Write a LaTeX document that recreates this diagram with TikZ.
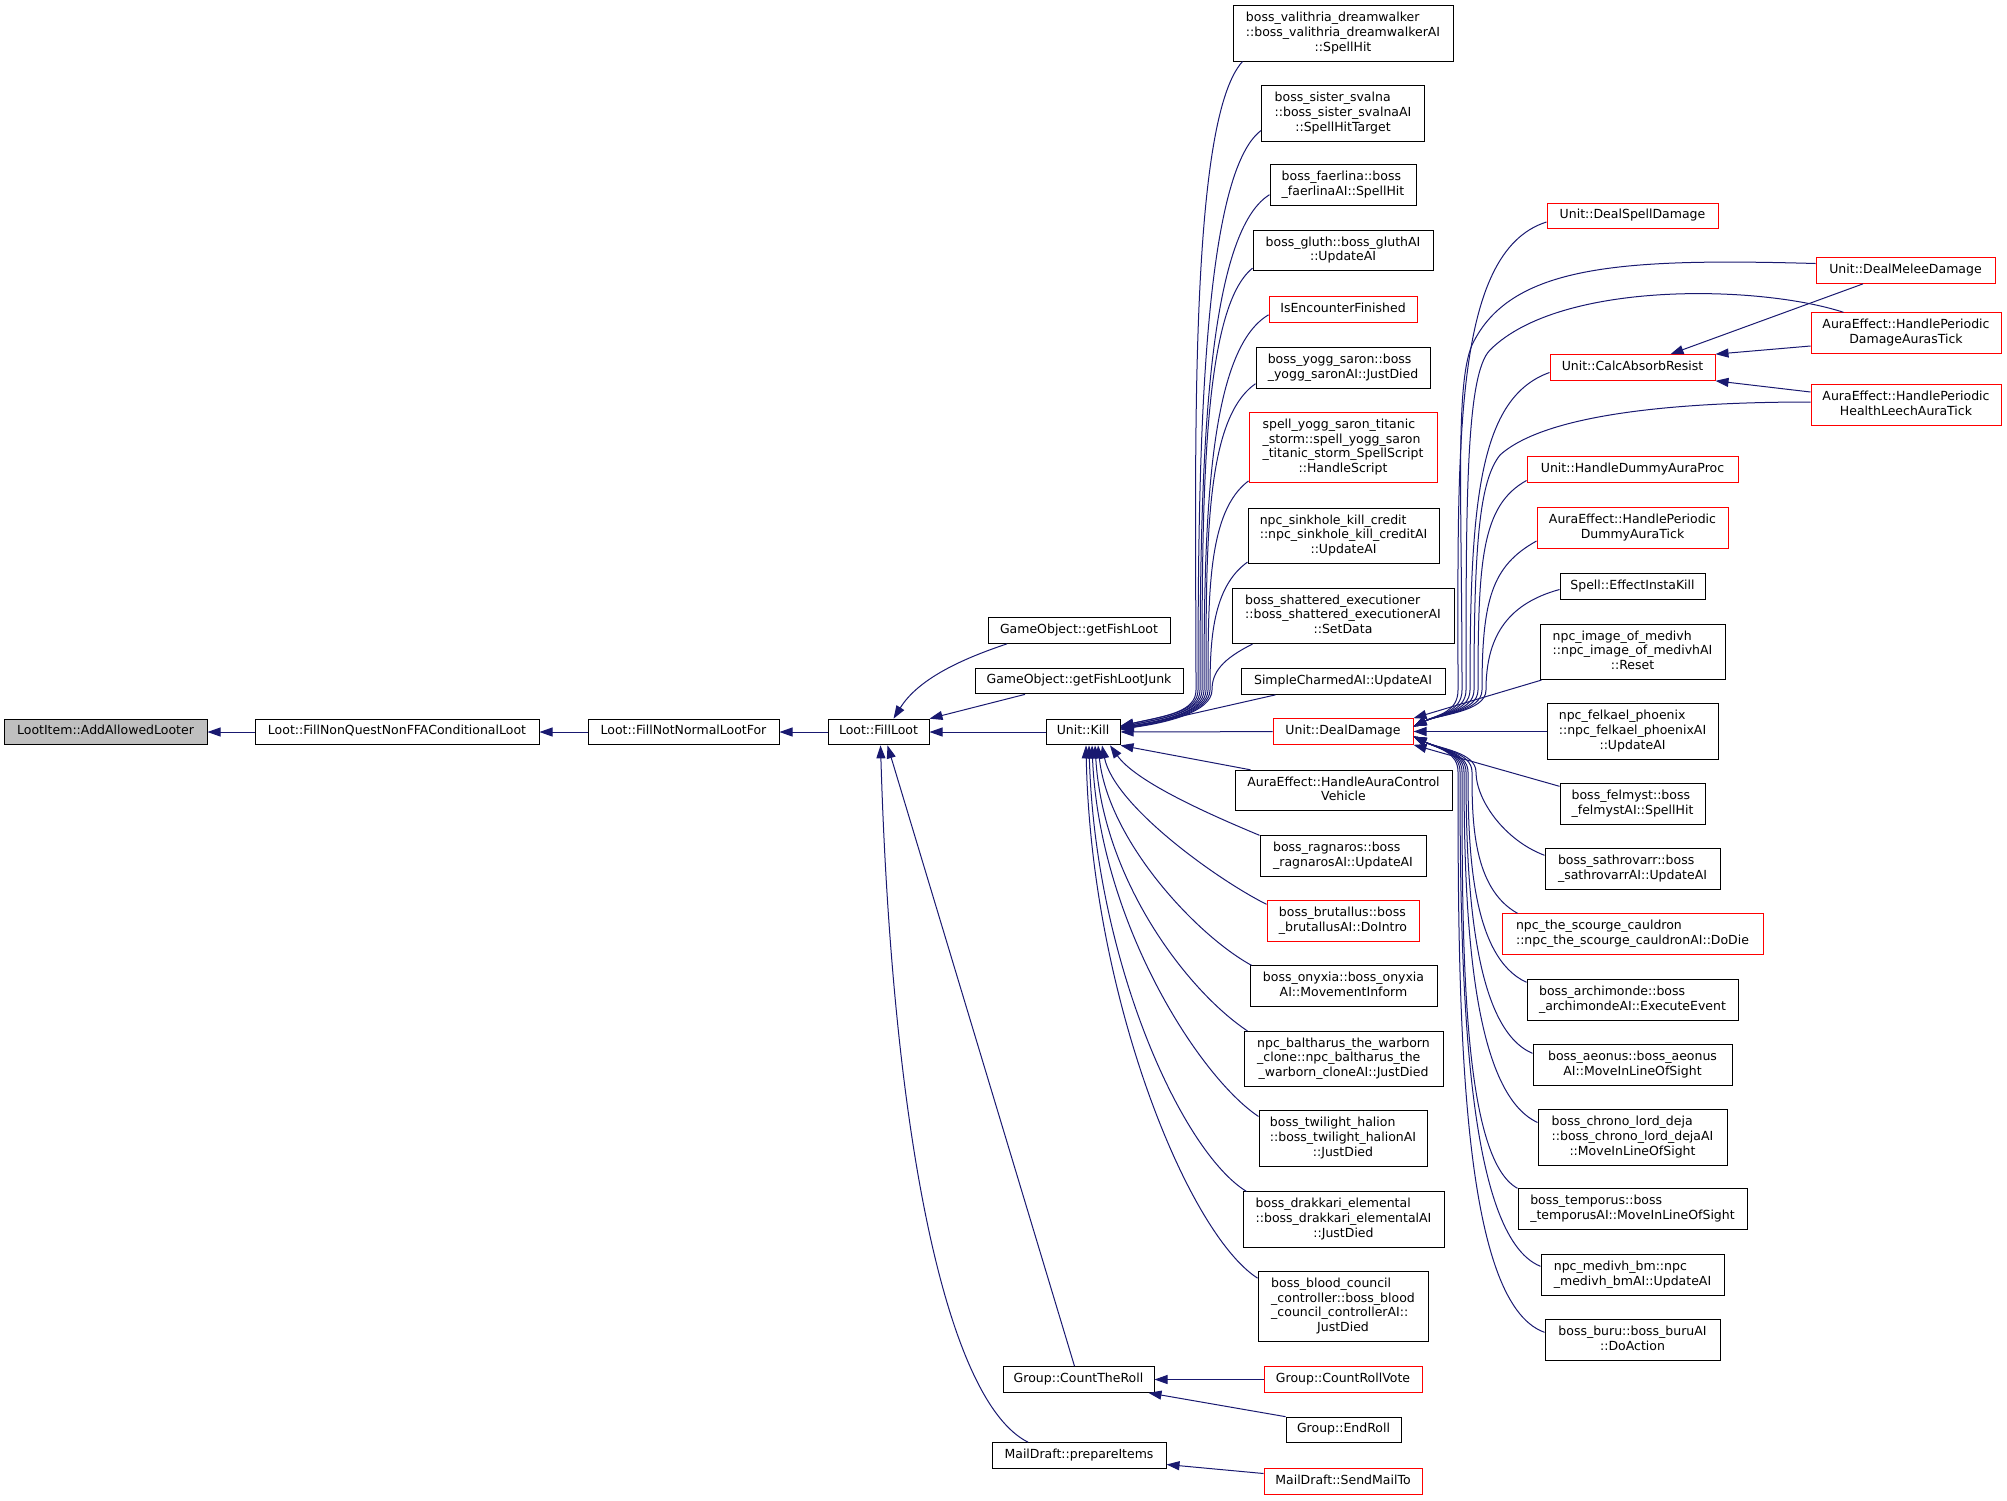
\documentclass[tikz,border=0pt]{standalone}
\usepackage{fontspec}
\setmainfont{DejaVu Sans}
\usepackage{tikz}
\usetikzlibrary{positioning}
\usetikzlibrary{arrows.meta}

\definecolor{callblue}{RGB}{25,25,112}
\definecolor{callred}{RGB}{255,0,0}

% label: left-aligned lines, last line centred
\newcommand{\fnlabel}[2]{\begin{tabular}{@{}l@{}}#1\\\multicolumn{1}{@{}c@{}}{#2}\end{tabular}}

\tikzset{
  fn/.style={draw=black, fill=white, line width=1pt, inner xsep=5pt, inner ysep=5.5pt,
    font=\fontsize{12.5}{14.7}\selectfont, execute at begin node=\strut},
  fnred/.style={fn, draw=callred},
  fnroot/.style={fn, fill=black!25},
  call/.style={draw=callblue, line width=1pt, -{Triangle[length=13pt,width=9pt]}},
}

\begin{document}
\begin{tikzpicture}[x=1pt, y=1pt]
\useasboundingbox (0,0) rectangle (2007,-1500);

% main chain
\node[fnroot, minimum width=203pt] (root) at (105.5,-732) {LootItem::AddAllowedLooter};
\node[fn, minimum width=284pt, right=47pt of root] (fnq) {Loot::FillNonQuestNonFFAConditionalLoot};
\node[fn, minimum width=191pt, right=48pt of fnq] (fnn) {Loot::FillNotNormalLootFor};
\node[fn, minimum width=101pt, right=48pt of fnn] (fill) {Loot::FillLoot};
\node[fn, minimum width=74pt, right=116pt of fill] (kill) {Unit::Kill};

% callers of FillLoot
\node[fn, minimum width=182pt] (fish) at (1079,-630.5) {GameObject::getFishLoot};
\node[fn, minimum width=208pt] (junk) at (1079,-681) {GameObject::getFishLootJunk};
\node[fn, minimum width=151pt] (roll) at (1078.5,-1379.5) {Group::CountTheRoll};
\node[fn, minimum width=174pt] (prep) at (1079,-1455.5) {MailDraft::prepareItems};

% callers of Kill, CountTheRoll, prepareItems
\node[fn, minimum width=220pt] (valith) at (1343,-33.5) {\fnlabel{boss\_valithria\_dreamwalker\\::boss\_valithria\_dreamwalkerAI}{::SpellHit}};
\node[fn, minimum width=163pt] (svalna) at (1343,-113.5) {\fnlabel{boss\_sister\_svalna\\::boss\_sister\_svalnaAI}{::SpellHitTarget}};
\node[fn, minimum width=146pt] (faerlina) at (1343,-185) {\fnlabel{boss\_faerlina::boss}{\_faerlinaAI::SpellHit}};
\node[fn, minimum width=180pt] (gluth) at (1343,-250.5) {\fnlabel{boss\_gluth::boss\_gluthAI}{::UpdateAI}};
\node[fnred, minimum width=148pt] (isenc) at (1343,-309.5) {IsEncounterFinished};
\node[fn, minimum width=174pt] (yogg) at (1343,-368) {\fnlabel{boss\_yogg\_saron::boss}{\_yogg\_saronAI::JustDied}};
\node[fnred, minimum width=188pt] (titanic) at (1343,-447.5) {\fnlabel{spell\_yogg\_saron\_titanic\\\_storm::spell\_yogg\_saron\\\_titanic\_storm\_SpellScript}{::HandleScript}};
\node[fn, minimum width=191pt] (sinkhole) at (1343.5,-536) {\fnlabel{npc\_sinkhole\_kill\_credit\\::npc\_sinkhole\_kill\_creditAI}{::UpdateAI}};
\node[fn, minimum width=222pt] (shattered) at (1343,-616) {\fnlabel{boss\_shattered\_executioner\\::boss\_shattered\_executionerAI}{::SetData}};
\node[fn, minimum width=204pt] (simple) at (1343,-681.5) {SimpleCharmedAI::UpdateAI};
\node[fnred, minimum width=140pt] (dealdmg) at (1343,-731.5) {Unit::DealDamage};
\node[fn, minimum width=217pt] (vehicle) at (1343.5,-790.5) {\fnlabel{AuraEffect::HandleAuraControl}{Vehicle}};
\node[fn, minimum width=166pt] (ragnaros) at (1343,-856) {\fnlabel{boss\_ragnaros::boss}{\_ragnarosAI::UpdateAI}};
\node[fnred, minimum width=152pt] (brutallus) at (1343,-921) {\fnlabel{boss\_brutallus::boss}{\_brutallusAI::DoIntro}};
\node[fn, minimum width=187pt] (onyxia) at (1343.5,-986) {\fnlabel{boss\_onyxia::boss\_onyxia}{AI::MovementInform}};
\node[fn, minimum width=199pt] (baltharus) at (1343.5,-1059) {\fnlabel{npc\_baltharus\_the\_warborn\\\_clone::npc\_baltharus\_the}{\_warborn\_cloneAI::JustDied}};
\node[fn, minimum width=168pt] (halion) at (1343,-1138.5) {\fnlabel{boss\_twilight\_halion\\::boss\_twilight\_halionAI}{::JustDied}};
\node[fn, minimum width=201pt] (drakkari) at (1343.5,-1219.5) {\fnlabel{boss\_drakkari\_elemental\\::boss\_drakkari\_elementalAI}{::JustDied}};
\node[fn, minimum width=170pt] (blood) at (1343,-1306.5) {\fnlabel{boss\_blood\_council\\\_controller::boss\_blood\\\_council\_controllerAI::}{JustDied}};
\node[fnred, minimum width=158pt] (rollvote) at (1343,-1379.5) {Group::CountRollVote};
\node[fn, minimum width=115pt] (endroll) at (1343.5,-1430) {Group::EndRoll};
\node[fnred, minimum width=158pt] (sendmail) at (1343,-1481.5) {MailDraft::SendMailTo};

% callers of DealDamage
\node[fnred, minimum width=171pt] (spelldmg) at (1632.5,-216) {Unit::DealSpellDamage};
\node[fnred, minimum width=165pt] (calcabs) at (1632.5,-367.5) {Unit::CalcAbsorbResist};
\node[fnred, minimum width=211pt] (dummyproc) at (1632.5,-469.5) {Unit::HandleDummyAuraProc};
\node[fnred, minimum width=191pt] (dummytick) at (1632.5,-528) {\fnlabel{AuraEffect::HandlePeriodic}{DummyAuraTick}};
\node[fn, minimum width=145pt] (instakill) at (1632.5,-586.5) {Spell::EffectInstaKill};
\node[fn, minimum width=185pt] (medivh) at (1632.5,-652) {\fnlabel{npc\_image\_of\_medivh\\::npc\_image\_of\_medivhAI}{::Reset}};
\node[fn, minimum width=171pt] (felkael) at (1632.5,-731.5) {\fnlabel{npc\_felkael\_phoenix\\::npc\_felkael\_phoenixAI}{::UpdateAI}};
\node[fn, minimum width=145pt] (felmyst) at (1632.5,-804) {\fnlabel{boss\_felmyst::boss}{\_felmystAI::SpellHit}};
\node[fn, minimum width=175pt] (sathrovarr) at (1632.5,-869) {\fnlabel{boss\_sathrovarr::boss}{\_sathrovarrAI::UpdateAI}};
\node[fnred, minimum width=261pt] (cauldron) at (1632.5,-934) {\fnlabel{npc\_the\_scourge\_cauldron}{::npc\_the\_scourge\_cauldronAI::DoDie}};
\node[fn, minimum width=211pt] (archimonde) at (1632.5,-1000) {\fnlabel{boss\_archimonde::boss}{\_archimondeAI::ExecuteEvent}};
\node[fn, minimum width=199pt] (aeonus) at (1632.5,-1065) {\fnlabel{boss\_aeonus::boss\_aeonus}{AI::MoveInLineOfSight}};
\node[fn, minimum width=189pt] (chrono) at (1632.5,-1137.5) {\fnlabel{boss\_chrono\_lord\_deja\\::boss\_chrono\_lord\_dejaAI}{::MoveInLineOfSight}};
\node[fn, minimum width=229pt] (temporus) at (1632.5,-1209) {\fnlabel{boss\_temporus::boss}{\_temporusAI::MoveInLineOfSight}};
\node[fn, minimum width=183pt] (medivhbm) at (1632.5,-1275) {\fnlabel{npc\_medivh\_bm::npc}{\_medivh\_bmAI::UpdateAI}};
\node[fn, minimum width=175pt] (buru) at (1632.5,-1340) {\fnlabel{boss\_buru::boss\_buruAI}{::DoAction}};

% callers of CalcAbsorbResist
\node[fnred, minimum width=179pt] (melee) at (1905.5,-270.5) {Unit::DealMeleeDamage};
\node[fnred, minimum width=190pt] (dmgaura) at (1906,-333) {\fnlabel{AuraEffect::HandlePeriodic}{DamageAurasTick}};
\node[fnred, minimum width=190pt] (leech) at (1906,-405) {\fnlabel{AuraEffect::HandlePeriodic}{HealthLeechAuraTick}};

% chain edges
\draw[call] (fnq) -- (root);
\draw[call] (fnn) -- (fnq);
\draw[call] (fill) -- (fnn);
\draw[call] (kill) -- (fill);
\draw[call] ([xshift=-72pt]fish.south) .. controls +(-45,-15) and +(25,40) .. ([xshift=15pt]fill.north);
\draw[call] ([xshift=-54pt]junk.south) -- (fill.north east);
\draw[call] ([xshift=-4pt]roll.north) -- ([xshift=9pt]fill.south);
\draw[call] ([xshift=-51pt]prep.north) .. controls +(-80,40) and +(12,-400) .. ([xshift=2pt]fill.south);
\draw[call] (rollvote) -- (roll);
\draw[call] (endroll.north west) -- ([xshift=-6pt]roll.south east);
\draw[call] ([yshift=8pt]sendmail.west) -- ([yshift=-9pt]prep.east);

% into Kill, from above
\draw[call] ([xshift=10pt]valith.south west) .. controls +(-55,-60) and (1196,-470) .. (1196,-690) .. controls (1196,-712) and +(45,10) .. ([yshift=6pt]kill.east);
\draw[call] ([yshift=11pt]svalna.south west) .. controls +(-60,-45) and (1198,-470) .. (1198,-690) .. controls (1198,-712) and +(45,10) .. ([yshift=6pt]kill.east);
\draw[call] ([yshift=11pt]faerlina.south west) .. controls +(-65,-40) and (1200,-480) .. (1200,-690) .. controls (1200,-712) and +(45,9) .. ([yshift=5pt]kill.east);
\draw[call] ([yshift=3pt]gluth.south west) .. controls +(-50,-40) and (1202,-500) .. (1202,-690) .. controls (1202,-712) and +(45,9) .. ([yshift=5pt]kill.east);
\draw[call] ([yshift=8pt]isenc.south west) .. controls +(-60,-35) and (1204,-520) .. (1204,-690) .. controls (1204,-712) and +(45,8) .. ([yshift=4pt]kill.east);
\draw[call] ([yshift=5pt]yogg.south west) .. controls +(-50,-35) and (1206,-540) .. (1206,-690) .. controls (1206,-712) and +(45,8) .. ([yshift=4pt]kill.east);
\draw[call] ([yshift=2pt]titanic.south west) .. controls +(-40,-30) and (1208,-590) .. (1208,-690) .. controls (1208,-712) and +(45,7) .. ([yshift=4pt]kill.east);
\draw[call] ([yshift=2pt]sinkhole.south west) .. controls +(-35,-25) and (1210,-640) .. (1210,-690) .. controls (1210,-712) and +(45,7) .. ([yshift=3pt]kill.east);
\draw[call] ([xshift=21pt]shattered.south west) .. controls +(-30,-15) and (1212,-672) .. (1212,-690) .. controls (1212,-712) and +(45,6) .. ([yshift=3pt]kill.east);
\draw[call] ([xshift=35pt]simple.south west) -- ([yshift=2pt]kill.east);
\draw[call] (dealdmg) -- (kill);

% into Kill, from below
\draw[call] ([xshift=16pt]vehicle.north west) -- (kill.south east);
\draw[call] (ragnaros.north west) .. controls +(-60,25) and +(25,-35) .. ([xshift=27pt]kill.south);
\draw[call] ([yshift=-4pt]brutallus.north west) .. controls +(-50,25) and +(12,-60) .. ([xshift=19pt]kill.south);
\draw[call] ([xshift=2pt]onyxia.north west) .. controls +(-55,30) and +(10,-95) .. ([xshift=15pt]kill.south);
\draw[call] ([xshift=4pt]baltharus.north west) .. controls +(-60,40) and +(8,-135) .. ([xshift=12pt]kill.south);
\draw[call] ([yshift=-6pt]halion.north west) .. controls +(-60,40) and +(7,-175) .. ([xshift=9pt]kill.south);
\draw[call] ([xshift=4pt]drakkari.north west) .. controls +(-65,40) and +(6,-215) .. ([xshift=6pt]kill.south);
\draw[call] ([yshift=-7pt]blood.north west) .. controls +(-70,45) and +(5,-250) .. ([xshift=3pt]kill.south);

% into DealDamage, from above
\draw[call] ([yshift=-6pt]spelldmg.west) .. controls +(-95,-30) and (1458,-450) .. (1458,-690) .. controls (1458,-712) and +(25,12) .. ([yshift=5pt]dealdmg.east);
\draw[call] ([yshift=7pt]melee.west) .. controls (1620,-258) and (1510,-265) .. (1472,-345) .. controls (1455,-385) and (1462,-500) .. (1462,-690) .. controls (1462,-712) and +(25,12) .. ([yshift=5pt]dealdmg.east);
\draw[call] ([xshift=33pt]dmgaura.north west) .. controls (1760,-285) and (1560,-280) .. (1490,-350) .. controls (1466,-374) and (1466,-500) .. (1466,-690) .. controls (1466,-712) and +(25,12) .. ([yshift=5pt]dealdmg.east);
\draw[call] ([yshift=-5pt]calcabs.west) .. controls +(-70,-25) and (1470,-500) .. (1470,-690) .. controls (1470,-712) and +(25,12) .. ([yshift=5pt]dealdmg.east);
\draw[call] ([yshift=3pt]leech.west) .. controls (1700,-402) and (1550,-410) .. (1500,-455) .. controls (1480,-480) and (1474,-540) .. (1474,-690) .. controls (1474,-712) and +(25,12) .. ([yshift=5pt]dealdmg.east);
\draw[call] ([yshift=-11pt]dummyproc.west) .. controls +(-45,-25) and (1478,-560) .. (1478,-690) .. controls (1478,-712) and +(25,12) .. ([yshift=5pt]dealdmg.east);
\draw[call] ([yshift=-13pt]dummytick.west) .. controls +(-45,-25) and (1482,-600) .. (1482,-690) .. controls (1482,-712) and +(25,12) .. ([yshift=5pt]dealdmg.east);
\draw[call] ([yshift=-3pt]instakill.west) .. controls +(-55,-15) and (1486,-640) .. (1486,-690) .. controls (1486,-712) and +(25,12) .. ([yshift=5pt]dealdmg.east);
\draw[call] ([xshift=2pt]medivh.south west) -- (dealdmg.north east);
\draw[call] (felkael) -- (dealdmg);
\draw[call] ([yshift=-3pt]felmyst.north west) -- (dealdmg.south east);

% into DealDamage, from below
\draw[call] ([yshift=-7pt]sathrovarr.north west) .. controls +(-40,15) and (1476,-800) .. (1476,-772) .. controls (1476,-752) and +(25,-12) .. ([yshift=-5pt]dealdmg.east);
\draw[call] ([xshift=16pt]cauldron.north west) .. controls +(-45,25) and (1472,-820) .. (1472,-772) .. controls (1472,-752) and +(25,-12) .. ([yshift=-5pt]dealdmg.east);
\draw[call] ([yshift=-3pt]archimonde.north west) .. controls +(-55,25) and (1468,-850) .. (1468,-772) .. controls (1468,-752) and +(25,-12) .. ([yshift=-5pt]dealdmg.east);
\draw[call] ([yshift=-9pt]aeonus.north west) .. controls +(-60,25) and (1466,-880) .. (1466,-772) .. controls (1466,-752) and +(25,-12) .. ([yshift=-5pt]dealdmg.east);
\draw[call] ([yshift=-13pt]chrono.north west) .. controls +(-65,30) and (1464,-920) .. (1464,-772) .. controls (1464,-752) and +(25,-12) .. ([yshift=-5pt]dealdmg.east);
\draw[call] (temporus.north west) .. controls +(-55,30) and (1462,-950) .. (1462,-772) .. controls (1462,-752) and +(25,-12) .. ([yshift=-5pt]dealdmg.east);
\draw[call] ([yshift=-12pt]medivhbm.north west) .. controls +(-75,30) and (1460,-980) .. (1460,-772) .. controls (1460,-752) and +(25,-12) .. ([yshift=-5pt]dealdmg.east);
\draw[call] ([yshift=-13pt]buru.north west) .. controls +(-85,30) and (1458,-1010) .. (1458,-772) .. controls (1458,-752) and +(25,-12) .. ([yshift=-5pt]dealdmg.east);

% into CalcAbsorbResist
\draw[call] ([xshift=-42.5pt]melee.south) -- ([xshift=38pt]calcabs.north);
\draw[call] ([yshift=-13pt]dmgaura.west) -- (calcabs.north east);
\draw[call] ([yshift=13pt]leech.west) -- (calcabs.south east);

\end{tikzpicture}
\end{document}
